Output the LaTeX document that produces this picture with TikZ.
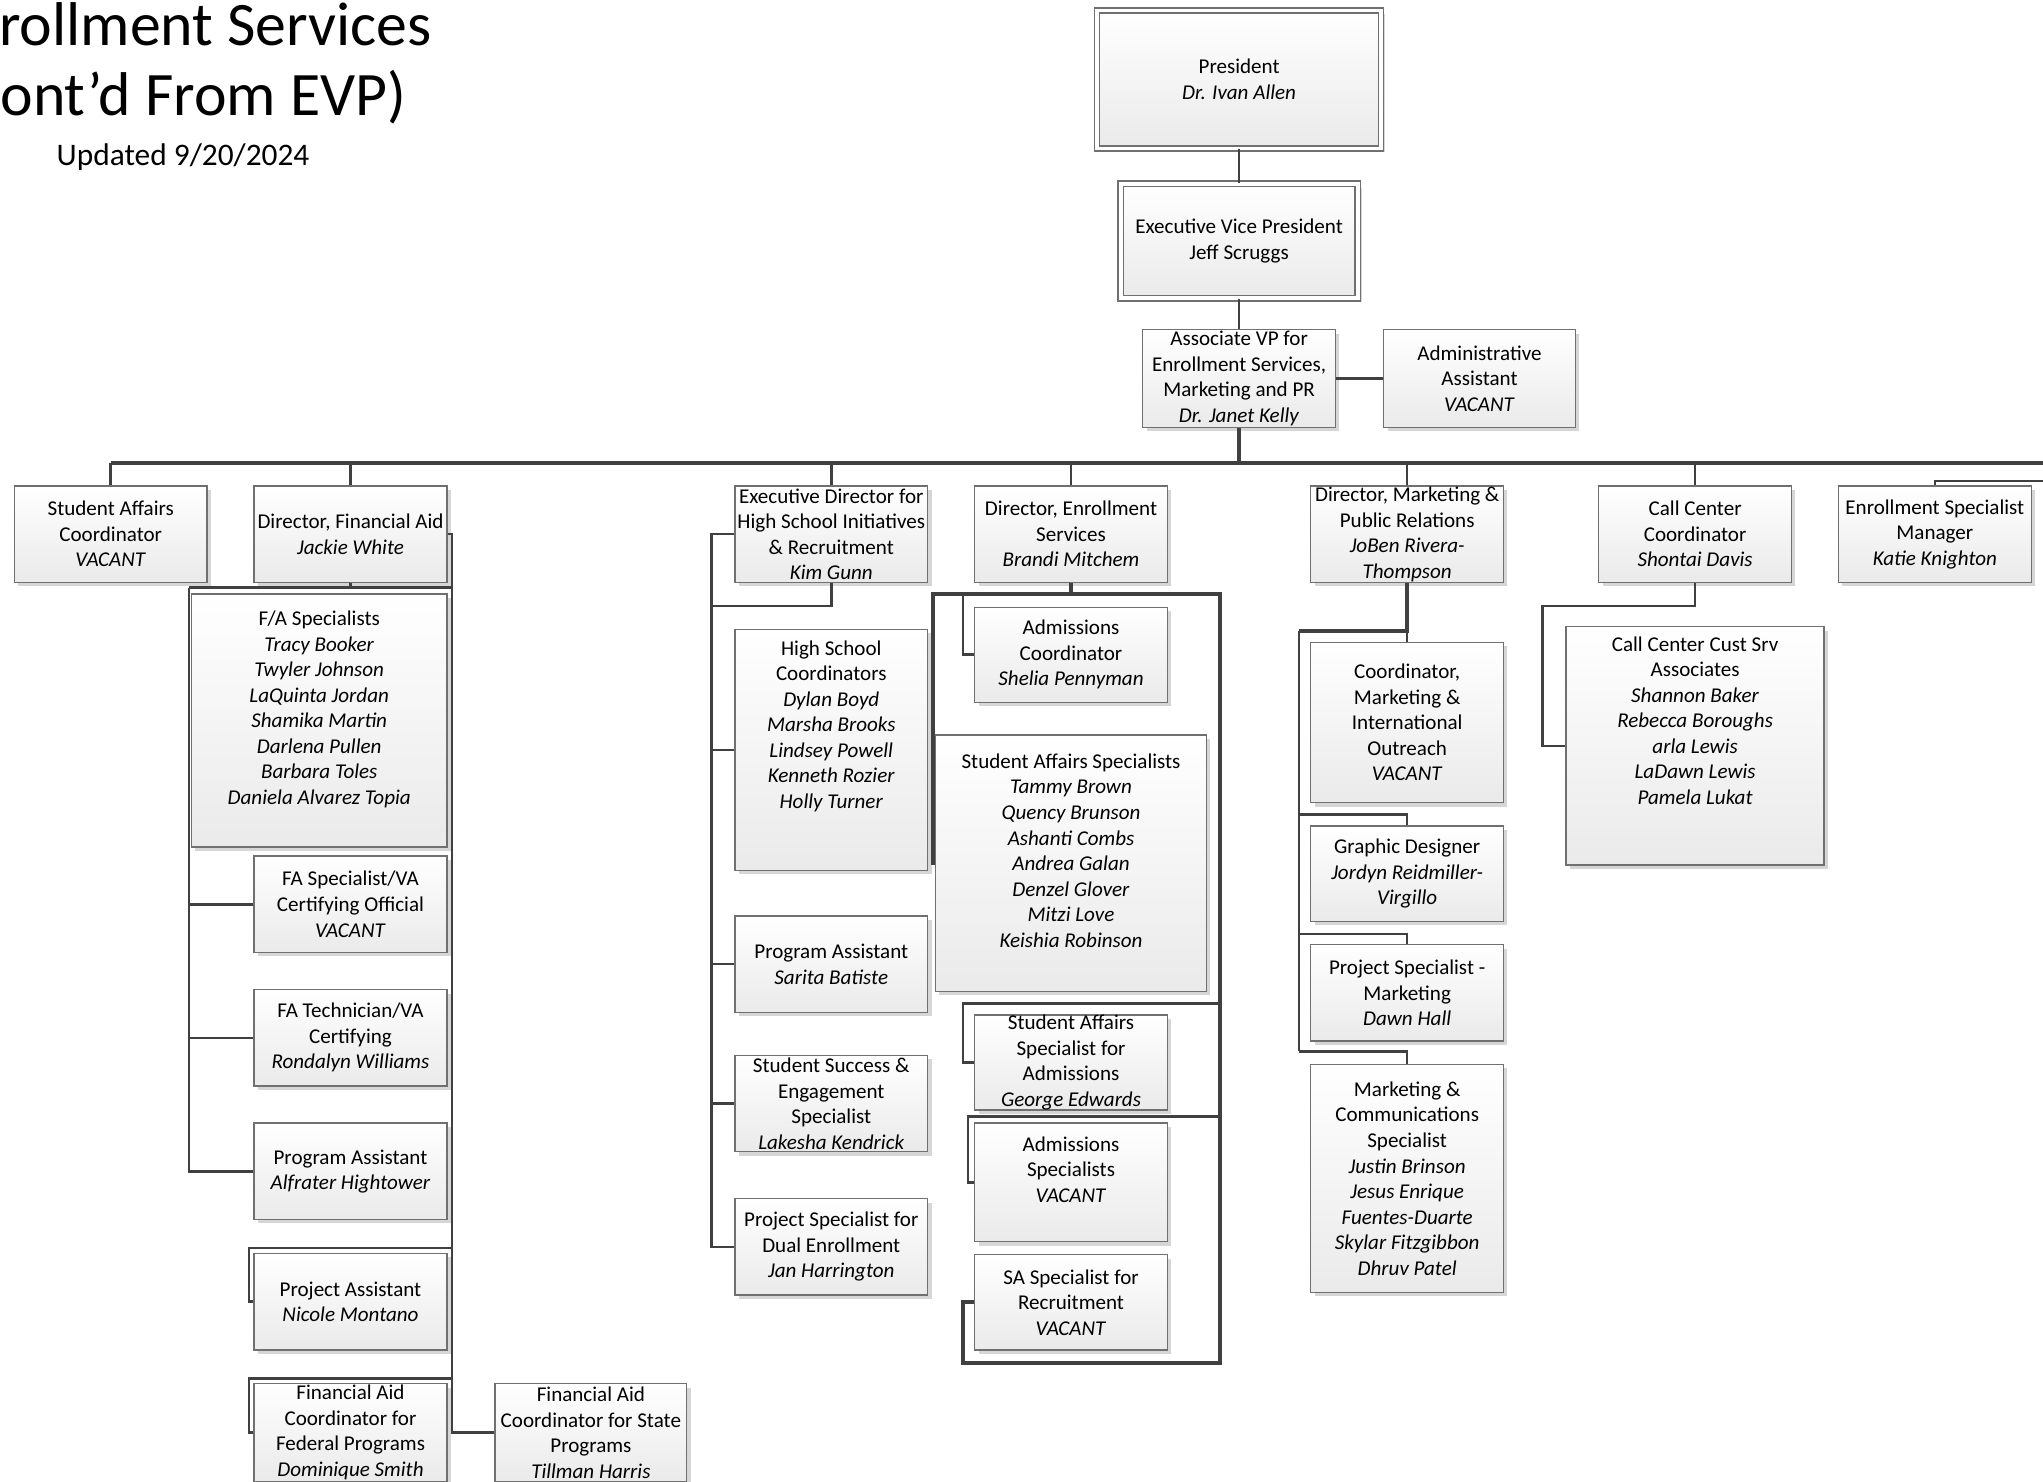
\documentclass[tikz,border=0pt]{standalone}
\usepackage{fontspec}
\setmainfont{Carlito}
\usepackage{tikz}
\usetikzlibrary{shadows}
\definecolor{linkgray}{RGB}{64,64,64}
\definecolor{boxgray}{RGB}{112,112,112}
\definecolor{fillgray}{RGB}{234,234,234}
\definecolor{shadowgray}{RGB}{214,214,214}

\begin{document}
\begin{tikzpicture}[x=0.02cm,y=-0.02cm,
  every node/.style={font=\fontsize{9.2}{11.15}\selectfont},
  box/.style={draw=boxgray,line width=0.6pt,top color=white,bottom color=fillgray,
    minimum width=2.96cm,minimum height=1.48cm,inner sep=0pt,align=center,
    drop shadow={shadow xshift=0.06cm,shadow yshift=-0.06cm,fill=shadowgray,opacity=1}},
  topbox/.style={box,double=white,double distance=1.7pt},
  link/.style={draw=linkgray,line width=1.1pt},
  bus/.style={draw=linkgray,line width=1.7pt}]
  \useasboundingbox (0,0) rectangle (1568,1137);

  % title
  \node[anchor=base west,inner sep=0pt,font=\fontsize{27}{33}\selectfont] (title1) at (-1,35) {rollment Services};
  \node[anchor=base west,inner sep=0pt,font=\fontsize{27}{33}\selectfont] (title2) at (0,88.5) {ont’d From EVP)};
  \node[anchor=base,inner sep=0pt,font=\fontsize{13.7}{16}\selectfont] (updated) at (140.5,127) {Updated 9/20/2024};

  % top of the chart
  \node[topbox,minimum width=4.36cm,minimum height=2.12cm] (pres) at (951,61) {President\\ \textit{Dr. Ivan Allen}};
  \node[topbox,minimum width=3.64cm,minimum height=1.76cm] (evp) at (951,185) {Executive Vice President\\ Jeff Scruggs};
  \node[box,minimum height=1.5cm] (avp) at (951,290.5) {Associate VP for\\ Enrollment Services,\\ Marketing and PR\\ \textit{Dr. Janet Kelly}};
  \node[box,minimum width=2.94cm,minimum height=1.5cm] (adm) at (1135.5,290.5) {Administrative\\ Assistant\\ \textit{VACANT}};

  % second row
  \node[box] (sac) at (85,410) {Student Affairs\\ Coordinator\\ \textit{VACANT}};
  \node[box] (dfa) at (269,410) {Director, Financial Aid\\ \textit{Jackie White}};
  \node[box] (edhs) at (638,410) {Executive Director for\\ High School Initiatives\\ \& Recruitment\\ \textit{Kim Gunn}};
  \node[box] (des) at (822,410) {Director, Enrollment\\ Services\\ \textit{Brandi Mitchem}};
  \node[box] (dmpr) at (1080,410) {Director, Marketing \&\\ Public Relations\\ \textit{JoBen Rivera-}\\ \textit{Thompson}};
  \node[box] (ccc) at (1301,410) {Call Center\\ Coordinator\\ \textit{Shontai Davis}};
  \node[box] (esm) at (1485,410) {Enrollment Specialist\\ Manager\\ \textit{Katie Knighton}};

  % financial aid
  \node[box,minimum width=3.92cm,minimum height=3.88cm] (fas) at (245,553) {F/A Specialists\\ \textit{Tracy Booker}\\ \textit{Twyler Johnson}\\ \textit{LaQuinta Jordan}\\ \textit{Shamika Martin}\\ \textit{Darlena Pullen}\\ \textit{Barbara Toles}\\ \textit{Daniela Alvarez Topia}\\ \mbox{}};
  \node[box] (favc) at (269,694) {FA Specialist/VA\\ Certifying Official\\ \textit{VACANT}};
  \node[box] (fat) at (269,796.5) {FA Technician/VA\\ Certifying\\ \textit{Rondalyn Williams}};
  \node[box] (pa1) at (269,899) {Program Assistant\\ \textit{Alfrater Hightower}};
  \node[box] (pa2) at (269,999) {Project Assistant\\ \textit{Nicole Montano}};
  \node[box,minimum height=1.5cm] (fcf) at (269,1099.5) {Financial Aid\\ Coordinator for\\ Federal Programs\\ \textit{Dominique Smith}};
  \node[box,minimum width=2.94cm,minimum height=1.5cm] (fcs) at (453.5,1099.5) {Financial Aid\\ Coordinator for State\\ Programs\\ \textit{Tillman Harris}};

  % high school initiatives
  \node[box,minimum height=3.7cm] (hsc) at (638,575.5) {High School\\ Coordinators\\ \textit{Dylan Boyd}\\ \textit{Marsha Brooks}\\ \textit{Lindsey Powell}\\ \textit{Kenneth Rozier}\\ \textit{Holly Turner}\\ \mbox{}\\ \mbox{}};
  \node[box] (pa3) at (638,740) {Program Assistant\\ \textit{Sarita Batiste}};
  \node[box] (sse) at (638,847) {Student Success \&\\ Engagement\\ Specialist\\ \textit{Lakesha Kendrick}};
  \node[box] (pjd) at (638,957) {Project Specialist for\\ Dual Enrollment\\ \textit{Jan Harrington}};

  % enrollment services
  \node[box,minimum height=1.46cm] (adc) at (822,502.5) {Admissions\\ Coordinator\\ \textit{Shelia Pennyman}};
  \node[box,minimum width=4.16cm,minimum height=3.94cm] (sas) at (822,662.5) {Student Affairs Specialists\\ \textit{Tammy Brown}\\ \textit{Quency Brunson}\\ \textit{Ashanti Combs}\\ \textit{Andrea Galan}\\ \textit{Denzel Glover}\\ \textit{Mitzi Love}\\ \textit{Keishia Robinson}\\ \mbox{}};
  \node[box,minimum height=1.46cm] (saa) at (822,815.5) {Student Affairs\\ Specialist for\\ Admissions\\ \textit{George Edwards}};
  \node[box,minimum height=1.82cm] (ads) at (822,907.5) {Admissions\\ Specialists\\ \textit{VACANT}\\ \mbox{}};
  \node[box,minimum height=1.46cm] (sar) at (822,999.5) {SA Specialist for\\ Recruitment\\ \textit{VACANT}};

  % marketing
  \node[box,minimum height=2.46cm] (cmio) at (1080,554.5) {Coordinator,\\ Marketing \&\\ International\\ Outreach\\ \textit{VACANT}};
  \node[box,minimum height=1.46cm] (gd) at (1080,670.5) {Graphic Designer\\ \textit{Jordyn Reidmiller-}\\ \textit{Virgillo}};
  \node[box] (psm) at (1080,762) {Project Specialist -\\ Marketing\\ \textit{Dawn Hall}};
  \node[box,minimum height=3.5cm] (mcs) at (1080,904.5) {Marketing \&\\ Communications\\ Specialist\\ \textit{Justin Brinson}\\ \textit{Jesus Enrique}\\ \textit{Fuentes-Duarte}\\ \textit{Skylar Fitzgibbon}\\ \textit{Dhruv Patel}};

  % call center
  \node[box,minimum width=3.96cm,minimum height=3.66cm] (ccs) at (1301,572.5) {Call Center Cust Srv\\ Associates\\ \textit{Shannon Baker}\\ \textit{Rebecca Boroughs}\\ \textit{arla Lewis}\\ \textit{LaDawn Lewis}\\ \textit{Pamela Lukat}\\ \mbox{}\\ \mbox{}};

  % rails and bends
  \coordinate (busL) at (85,355);
  \coordinate (busR) at (1575,355);
  \coordinate (esmJ) at (1575,369);
  \coordinate (faL) at (145,451);
  \coordinate (faR) at (347,451);
  \coordinate (faJ1) at (191,958);
  \coordinate (faJ2) at (191,1058);
  \coordinate (hsL) at (546,465);
  \coordinate (esL) at (716,456);
  \coordinate (esR) at (936,456);
  \coordinate (esA) at (739,456);
  \coordinate (esB) at (739,1046);
  \coordinate (esJ1) at (739,770);
  \coordinate (esJ2) at (743,857);
  \coordinate (mkL) at (997,484);
  \coordinate (mkJ1) at (997,625);
  \coordinate (mkJ2) at (997,717);
  \coordinate (mkJ3) at (997,807);
  \coordinate (ccJ) at (1184,465);

  \draw[link] (pres) -- (evp);
  \draw[link] (evp) -- (avp);
  \draw[link] (avp) -- (adm);
  \draw[bus] (avp) -- (avp |- busL);
  \draw[bus] (busL) -- (busR);
  \foreach \n in {sac,dfa,edhs,des,dmpr,ccc}
    \draw[link] (\n) -- (\n |- busL);
  \draw[link] (esm) |- (esmJ);

  % financial aid links
  \draw[link] (dfa) -- (dfa |- faL);
  \draw[link] (faL) -- (faR);
  \draw[link] (faL) |- (pa1.west);
  \draw[link] (faL |- favc.west) -- (favc.west);
  \draw[link] (faL |- fat.west) -- (fat.west);
  \draw[link] (dfa.east) -| (faR |- fcs.west) -- (fcs.west);
  \draw[link] (faR |- faJ1) -- (faJ1) |- (pa2.west);
  \draw[link] (faR |- faJ2) -- (faJ2) |- (fcf.west);

  % high school links
  \draw[link] (edhs.west) -| (hsL |- pjd.west) -- (pjd.west);
  \draw[link] (edhs) -- (edhs |- hsL) -- (hsL);
  \foreach \n in {hsc,pa3,sse}
    \draw[link] (hsL |- \n.west) -- (\n.west);

  % enrollment services links
  \draw[bus] (des) -- (des |- esL);
  \draw[bus] (sas.west) -| (esL) -- (esR) |- (esB) |- (sar.west);
  \draw[link] (esA) |- (adc.west);
  \draw[link] (esR |- esJ1) -- (esJ1) |- (saa.west);
  \draw[link] (esR |- esJ2) -- (esJ2) |- (ads.west);

  % marketing links
  \draw[bus] (dmpr) -- (dmpr |- mkL) -- (mkL);
  \draw[link] (dmpr |- mkL) -- (cmio);
  \draw[link] (mkL) -- (mkJ3);
  \foreach \j/\n in {mkJ1/gd,mkJ2/psm,mkJ3/mcs}
    \draw[link] (\j) -| (\n);

  % call center links
  \draw[link] (ccc) -- (ccc |- ccJ) -- (ccJ) |- (ccs.west);
\end{tikzpicture}
\end{document}
